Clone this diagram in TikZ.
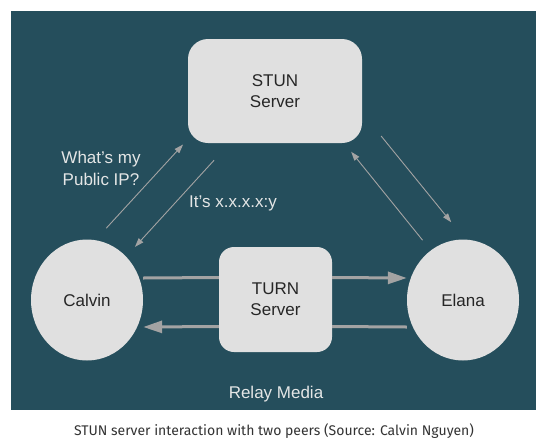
\documentclass[tikz,border=0pt]{standalone}
\usepackage{fontspec}
\setmainfont{Liberation Sans}
\newfontfamily\captionfont{Fira Sans}
\usetikzlibrary{arrows.meta,shapes.geometric}

\definecolor{bgteal}{HTML}{254E5C}
\definecolor{boxgray}{HTML}{E0E0E0}
\definecolor{linegray}{HTML}{A3A3A3}
\definecolor{labelgray}{HTML}{E4E6E6}
\definecolor{capgray}{HTML}{333333}

\begin{document}
\begin{tikzpicture}
[
	x=1pt,
	y=-1pt,
	server/.style={rectangle,rounded corners=#1,fill=boxgray,inner sep=0pt,text=black!85,align=center,font=\fontsize{17}{21}\selectfont},
	server/.default=15pt,
	peer/.style={ellipse,fill=boxgray,inner sep=0pt,minimum width=112pt,minimum height=121pt,text=black!85,font=\fontsize{17}{21}\selectfont},
	msg/.style={text=labelgray,align=center,font=\fontsize{17}{22}\selectfont},
	thinarrow/.style={draw=linegray,line width=0.9pt,-{Triangle[length=9pt,width=6pt]}},
	relay/.style={draw=linegray,line width=3pt},
	relayarrow/.style={relay,-{Triangle[length=19pt,width=12pt]}}
]

	% page and panel
	\useasboundingbox[fill=white] (0,0) rectangle (546,445);
	\fill[bgteal] (11,11) rectangle (536,410);

	% servers and peers
	\node[server=20pt,minimum width=174pt,minimum height=104pt] (stun) at (275,91) {STUN\\Server};
	\node[server=15pt,minimum width=113pt,minimum height=105pt] (turn) at (275.5,299.5) {TURN\\Server};
	\node[peer] (calvin) at (87,300) {Calvin};
	\node[peer] (elana) at (463,300) {Elana};

	% labels
	\node[msg] (askip) at (101,168) {What’s my\\Public IP?};
	\node[msg] (replyip) at (233,203.5) {It’s x.x.x.x:y};
	\node[msg] (relaylabel) at (276,394.5) {Relay Media};
	\node[anchor=base,text=capgray,font=\captionfont\fontsize{14}{17}\selectfont] (caption) at (274,435) {STUN server interaction with two peers (Source: Calvin Nguyen)};

	% stun requests and replies
	\draw[thinarrow,shorten <=16pt,shorten >=7pt] (calvin.82) -- (stun.209);
	\draw[thinarrow,shorten <=23pt,shorten >=13pt] (stun.229) -- (calvin.48);
	\draw[thinarrow,shorten <=30pt,shorten >=22pt] (stun.346) -- (elana.88);
	\draw[thinarrow,shorten <=13pt,shorten >=11pt] (elana.123) -- (stun.323);

	% relayed media
	\draw[relay] ([yshift=22pt]calvin.east) -- ([yshift=22pt]turn.west);
	\draw[relayarrow] ([yshift=22pt]turn.east) -- ([yshift=22pt]elana.west);
	\draw[relay] ([yshift=-27pt]elana.west) -- ([yshift=-27pt]turn.east);
	\draw[relayarrow] ([yshift=-27pt]turn.west) -- ([yshift=-27pt]calvin.east);

\end{tikzpicture}
\end{document}
